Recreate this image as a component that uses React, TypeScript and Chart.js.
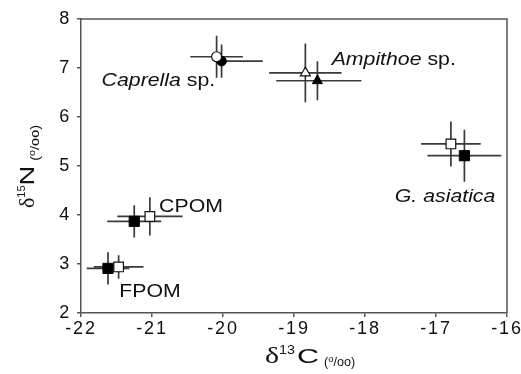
import React, { useEffect, useRef } from "react";
import { Chart, registerables } from "chart.js";

Chart.register(...registerables);

// Groups (same order in every array)
const groups = ["Caprella sp.", "Ampithoe sp.", "G. asiatica", "CPOM", "FPOM"];
const markerShapes = ["circle", "triangle", "rect", "rect", "rect"];

// Open-symbol series
const openX = [-20.09, -18.84, -16.79, -21.03, -21.47];
const openY = [7.23, 6.9, 5.45, 3.97, 2.94];
const openXErr = [0.37, 0.51, 0.42, 0.46, 0.35];
const openYErr = [0.43, 0.6, 0.46, 0.39, 0.24];

// Filled-symbol series
const filledX = [-20.02, -18.67, -16.6, -21.25, -21.62];
const filledY = [7.14, 6.74, 5.21, 3.87, 2.91];
const filledXErrLow = [0.0, 0.58, 0.52, 0.38, 0.3];
const filledXErrHigh = [0.58, 0.62, 0.52, 0.38, 0.3];
const filledYErr = [0.34, 0.4, 0.53, 0.33, 0.33];

// Axes
const xTickValues = [-22, -21, -20, -19, -18, -17, -16];
const xTickLabels = ["-22", "-21", "-20", "-19", "-18", "-17", "-16"];
const yTickValues = [2, 3, 4, 5, 6, 7, 8];
const yTickLabels = ["2", "3", "4", "5", "6", "7", "8"];

const SANS = '"Liberation Sans", Arial, Helvetica, sans-serif';
const SERIF = '"Liberation Serif", "Times New Roman", serif';

type Run = { text: string; size: number; family?: string; italic?: boolean; rise?: number; sx?: number; gap?: number };

function drawRuns(ctx: CanvasRenderingContext2D, runs: Run[], x: number, y: number, rotate = 0, align: "left" | "right" = "left") {
  ctx.save();
  (ctx as any).letterSpacing = "0px";
  ctx.translate(x, y);
  if (rotate) ctx.rotate(rotate);
  ctx.textBaseline = "alphabetic";
  ctx.textAlign = "left";
  ctx.fillStyle = "#111";
  const widths = runs.map((r) => {
    ctx.font = `${r.italic ? "italic " : ""}${r.size}px ${r.family || SANS}`;
    return ctx.measureText(r.text).width * (r.sx ?? 1) + (r.gap || 0);
  });
  let cx = align === "right" ? -widths.reduce((a, b) => a + b, 0) : 0;
  runs.forEach((r, i) => {
    ctx.font = `${r.italic ? "italic " : ""}${r.size}px ${r.family || SANS}`;
    ctx.save();
    ctx.translate(cx, -(r.rise || 0));
    ctx.scale(r.sx ?? 1, 1);
    ctx.fillText(r.text, 0, 0);
    ctx.restore();
    cx += widths[i];
  });
  ctx.restore();
}

const letterSpacingPlugin = {
  id: "letterSpacing",
  beforeDraw(chart: any) {
    chart.ctx.letterSpacing = "1.8px";
  },
};

const boxPlugin = {
  id: "box",
  beforeDatasetsDraw(chart: any) {
    const { ctx, chartArea: a } = chart;
    ctx.save();
    ctx.strokeStyle = "#555";
    ctx.lineWidth = 1.5;
    ctx.beginPath();
    ctx.moveTo(a.left, a.top);
    ctx.lineTo(a.right, a.top);
    ctx.lineTo(a.right, a.bottom);
    ctx.stroke();
    ctx.restore();
  },
};

const errorBarPlugin = {
  id: "errorBars",
  beforeDatasetsDraw(chart: any) {
    const { ctx } = chart;
    const xs = chart.scales.x;
    const ys = chart.scales.y;
    ctx.save();
    ctx.strokeStyle = "#3a3a3a";
    ctx.lineWidth = 1.7;
    const draw = (cx: number, cy: number, xl: number, xh: number, yl: number, yh: number) => {
      ctx.beginPath();
      ctx.moveTo(xs.getPixelForValue(cx - xl), ys.getPixelForValue(cy));
      ctx.lineTo(xs.getPixelForValue(cx + xh), ys.getPixelForValue(cy));
      ctx.moveTo(xs.getPixelForValue(cx), ys.getPixelForValue(cy + yh));
      ctx.lineTo(xs.getPixelForValue(cx), ys.getPixelForValue(cy - yl));
      ctx.stroke();
    };
    groups.forEach((_, i) => {
      draw(filledX[i], filledY[i], filledXErrLow[i], filledXErrHigh[i], filledYErr[i], filledYErr[i]);
      draw(openX[i], openY[i], openXErr[i], openXErr[i], openYErr[i], openYErr[i]);
    });
    ctx.restore();
  },
};

const labelPlugin = {
  id: "labels",
  afterDraw(chart: any) {
    const { ctx } = chart;
    const xs = chart.scales.x;
    const ys = chart.scales.y;
    const px = (v: number) => xs.getPixelForValue(v);
    const py = (v: number) => ys.getPixelForValue(v);
    const S = 19;
    const SX = 1.12;
    // group labels
    drawRuns(ctx, [{ text: "Caprella", size: S, italic: true, sx: SX }, { text: " sp.", size: S, sx: SX }], px(-21.71), py(6.63));
    drawRuns(ctx, [{ text: "Ampithoe", size: S, italic: true, sx: SX }, { text: " sp.", size: S, sx: SX }], px(-18.47), py(7.07));
    drawRuns(ctx, [{ text: "G. asiatica", size: S, italic: true, sx: SX }], px(-17.58), py(4.27));
    drawRuns(ctx, [{ text: "CPOM", size: S, sx: SX }], px(-20.9), py(4.07));
    drawRuns(ctx, [{ text: "FPOM", size: S, sx: SX }], px(-21.46), py(2.32));

    // axis titles
    const a = chart.chartArea;
    const unitRuns = (sx: number, rise: number): Run[] => [
      { text: "(", size: 12, sx, rise },
      { text: "o", size: 9, sx, rise: rise + 4 },
      { text: "/", size: 12, sx, rise },
      { text: "oo", size: 12, sx, rise },
      { text: ")", size: 12, sx, rise },
    ];
    drawRuns(
      ctx,
      [
        { text: "δ", size: 23, family: SERIF, sx: 1.3 },
        { text: "13", size: 13, sx: 1.1, rise: 9, gap: 2 },
        { text: "C", size: 21, sx: 1.45, gap: 5 },
        ...unitRuns(1.05, -3),
      ],
      265,
      a.bottom + 49.5
    );
    drawRuns(
      ctx,
      [
        { text: "δ", size: 22, family: SERIF, sx: 1.0 },
        { text: "15", size: 11, sx: 1.0, rise: 9 },
        { text: "N", size: 21, sx: 1.3, gap: 5 },
        ...unitRuns(1.2, -5),
      ],
      34,
      208,
      -Math.PI / 2
    );
  },
};

export default function App() {
  const ref = useRef<HTMLCanvasElement | null>(null);

  useEffect(() => {
    const canvas = ref.current;
    if (!canvas) return;
    const openRadius = markerShapes.map((s) => (s === "circle" ? 5 : s === "triangle" ? 5.8 : 6.8));
    const filledRadius = markerShapes.map((s) => (s === "circle" ? 4.8 : s === "triangle" ? 5.8 : 7.2));
    const chart = new Chart(canvas, {
      type: "scatter",
      data: {
        datasets: [
          {
            label: "open",
            data: openX.map((x, i) => ({ x, y: openY[i] })),
            pointStyle: markerShapes as any,
            pointRadius: openRadius,
            backgroundColor: "#ffffff",
            borderColor: "#111",
            borderWidth: 1.2,
          },
          {
            label: "filled",
            data: filledX.map((x, i) => ({ x, y: filledY[i] })),
            pointStyle: markerShapes as any,
            pointRadius: filledRadius,
            backgroundColor: "#000",
            borderColor: "#000",
            borderWidth: 1,
          },
        ],
      },
      options: {
        responsive: false,
        animation: false,
        devicePixelRatio: 1,
        events: [],
        layout: { padding: { top: 19, right: 14, left: 0, bottom: 0 } },
        plugins: { legend: { display: false }, tooltip: { enabled: false } },
        scales: {
          x: {
            type: "linear",
            min: -22,
            max: -16,
            afterBuildTicks: (s: any) => {
              s.ticks = xTickValues.map((v) => ({ value: v }));
            },
            afterFit: (s: any) => {
              s.height = 61;
              s.paddingLeft = 0;
              s.paddingRight = 0;
            },
            ticks: {
              font: { family: SANS, size: 18 },
              color: "#111",
              padding: 1,
              maxRotation: 0,
              autoSkip: false,
              callback: (_v: any, i: number) => xTickLabels[i],
            },
            grid: { drawOnChartArea: false, drawTicks: true, tickLength: 4, color: "#555", lineWidth: 1.5 },
            border: { display: true, color: "#555", width: 1.5 },
          },
          y: {
            type: "linear",
            min: 2,
            max: 8,
            afterBuildTicks: (s: any) => {
              s.ticks = yTickValues.map((v) => ({ value: v }));
            },
            afterFit: (s: any) => {
              s.width = 81;
              s.paddingTop = 0;
              s.paddingBottom = 0;
            },
            ticks: {
              font: { family: SANS, size: 18 },
              color: "#111",
              padding: 6,
              autoSkip: false,
              callback: (_v: any, i: number) => yTickLabels[i],
            },
            grid: { drawOnChartArea: false, drawTicks: true, tickLength: 4, color: "#555", lineWidth: 1.5 },
            border: { display: true, color: "#555", width: 1.5 },
          },
        },
      },
      plugins: [letterSpacingPlugin, boxPlugin, errorBarPlugin, labelPlugin],
    } as any);
    return () => chart.destroy();
  }, []);

  return (
    <div style={{ position: "absolute", left: 0, top: 0, width: 521, height: 374, background: "#fff" }}>
      <canvas ref={ref} width={521} height={374} style={{ display: "block", width: 521, height: 374 }} />
    </div>
  );
}
